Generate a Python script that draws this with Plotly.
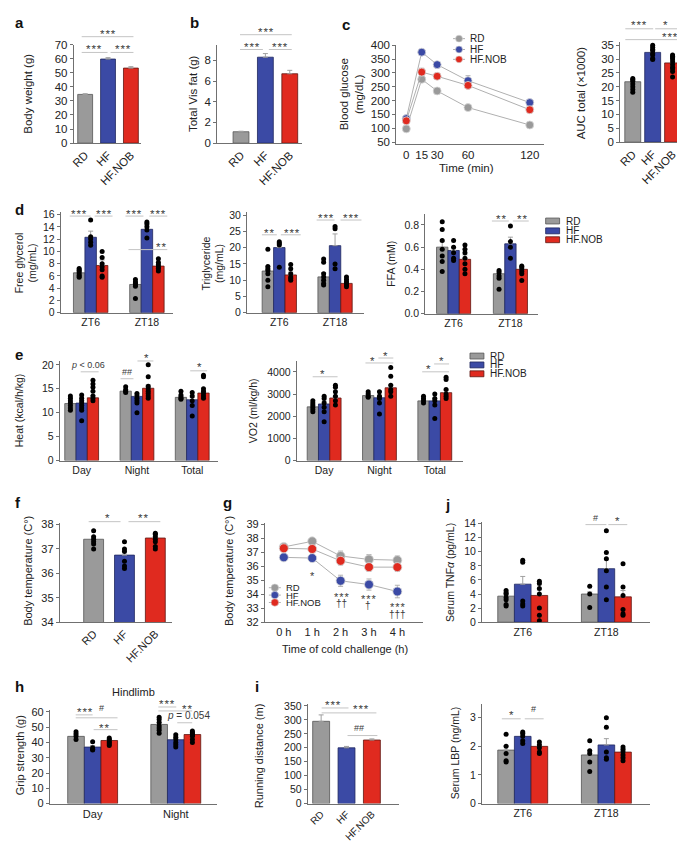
import plotly.graph_objects as go

W, H = 685, 842
FONT = "Liberation Sans"

GROUPS = ["RD", "HF", "HF.NOB"]
FILL = ["#9a9a9a", "#3b4aa5", "#e02a1f"]
EDGE = ["#555555", "#20275e", "#5e1712"]

# ---------------- data ----------------
# a  body weight
bw_mean = [34.6, 59.7, 53.3]
bw_sem = [0.5, 1.0, 1.0]
# b  total visceral fat
fat_mean = [1.1, 8.3, 6.7]
fat_sem = [0.05, 0.35, 0.33]
# c  GTT
gtt_time = [0, 15, 30, 60, 120]
gtt_mean = [[98, 277, 235, 175, 112],
            [135, 375, 330, 272, 193],
            [127, 303, 288, 255, 167]]
gtt_sem = [[5, 10, 10, 8, 5],
           [5, 5, 5, 18, 5],
           [5, 14, 10, 10, 8]]
auc_mean = [21.8, 32.4, 28.6]
auc_sem = [0.8, 0.8, 0.9]
auc_dots = [[23.0, 22.5, 22.0, 21.0, 20.0, 19.0, 18.0],
            [35.0, 34.3, 33.5, 33.0, 32.0, 31.5, 30.2, 29.8],
            [31.5, 31.0, 30.5, 30.0, 29.0, 28.0, 27.0, 26.5, 25.5, 23.5]]
# d
zt_cats = ["ZT6", "ZT18"]
fg_mean = [[6.5, 4.6], [12.3, 13.6], [7.7, 7.6]]
fg_sem = [[0.3, 0.4], [1.0, 0.7], [0.9, 0.6]]
fg_dots = [[[7.2, 7.0, 6.8, 6.5, 6.2, 6.0, 5.8], [5.4, 5.0, 4.8, 4.5, 4.3, 2.3]],
           [[15.1, 12.4, 12.0, 11.5, 11.0], [14.8, 14.5, 14.0, 13.5, 12.2]],
           [[10.0, 9.0, 8.0, 7.5, 7.0, 6.0, 5.8], [8.8, 8.2, 7.8, 7.5, 7.2, 6.8]]]
tg_mean = [[12.8, 11.0], [20.0, 20.6], [11.6, 9.0]]
tg_sem = [[1.4, 1.3], [1.6, 3.6], [0.9, 0.5]]
tg_dots = [[[19.5, 14.2, 13.5, 13.0, 12.0, 10.0, 8.0], [16.5, 15.5, 12.0, 11.0, 10.0, 9.0, 8.5]],
           [[21.8, 21.3, 20.8, 14.0], [26.5, 25.8, 15.0, 13.5]],
           [[14.8, 13.5, 12.0, 11.0, 10.5, 10.0], [11.0, 10.2, 9.5, 9.0, 8.5, 8.0]]]
ffa_mean = [[0.60, 0.36], [0.57, 0.63], [0.49, 0.40]]
ffa_sem = [[0.05, 0.02], [0.03, 0.06], [0.04, 0.02]]
ffa_dots = [[[0.83, 0.76, 0.66, 0.58, 0.52, 0.47, 0.38], [0.39, 0.37, 0.34, 0.32, 0.22]],
            [[0.66, 0.60, 0.55, 0.50, 0.48], [0.79, 0.65, 0.60, 0.50]],
            [[0.62, 0.58, 0.55, 0.50, 0.45, 0.40, 0.36], [0.43, 0.42, 0.40, 0.38, 0.36, 0.30]]]
# e
period_cats = ["Day", "Night", "Total"]
heat_mean = [[11.9, 14.5, 13.2], [12.0, 13.4, 12.7], [13.1, 15.1, 14.1]]
heat_sem = [[0.3, 0.3, 0.3], [0.5, 0.5, 0.5], [0.5, 0.7, 0.5]]
heat_dots = [[[13.5, 13.0, 12.5, 12.0, 11.5, 11.0, 10.5], [15.4, 14.8, 14.5, 14.2], [14.5, 13.7, 13.3, 13.0, 12.8]],
             [[13.7, 13.0, 12.5, 12.0, 11.5, 11.0, 10.5, 8.3], [14.0, 13.5, 13.0, 12.5, 12.0, 10.0], [14.2, 13.5, 12.5, 11.5, 9.3]],
             [[16.8, 16.0, 15.3, 14.5, 13.5, 13.0, 12.5], [20.0, 17.5, 15.5, 15.0, 14.5, 14.0, 13.5, 13.0], [17.8, 17.5, 15.0, 14.5, 14.0, 13.5, 13.0]]]
vo2_mean = [[2420, 2930, 2690], [2550, 2830, 2690], [2820, 3280, 3060]]
vo2_sem = [[60, 60, 60], [120, 120, 110], [100, 140, 110]]
vo2_dots = [[[2700, 2600, 2500, 2400, 2300, 2200], [3100, 3000, 2900, 2850], [2900, 2800, 2700, 2600]],
            [[2900, 2800, 2600, 2400, 2200, 1750], [3100, 2900, 2800, 2600, 2100], [3000, 2800, 2700, 2500, 1900]],
            [[3400, 3300, 3100, 2900, 2700, 2500], [4200, 3800, 3400, 3200, 3100, 2900], [3750, 3650, 3200, 3000, 2900, 2800]]]
# f
bt_mean = [37.4, 36.75, 37.45]
bt_sem = [0.08, 0.2, 0.08]
bt_dots = [[37.75, 37.5, 37.4, 37.3, 37.2, 37.0],
           [37.3, 37.0, 36.9, 36.5, 36.3, 36.2],
           [37.65, 37.6, 37.5, 37.4, 37.3, 37.1, 37.0]]
# g
cold_hours = [0, 1, 2, 3, 4]
cold_labels = ["0 h", "1 h", "2 h", "3 h", "4 h"]
cold_mean = [[37.4, 37.8, 36.75, 36.5, 36.45],
             [36.65, 36.6, 34.97, 34.7, 34.2],
             [37.3, 37.25, 36.4, 35.95, 35.95]]
cold_sem = [[0.15, 0.1, 0.35, 0.35, 0.3],
            [0.2, 0.2, 0.4, 0.4, 0.45],
            [0.2, 0.2, 0.3, 0.3, 0.3]]
# j
tnf_mean = [[3.7, 4.0], [5.4, 7.6], [3.8, 3.6]]
tnf_sem = [[0.3, 0.3], [1.1, 1.3], [0.8, 0.9]]
tnf_dots = [[[4.5, 4.2, 4.0, 3.5, 3.2, 2.5, 2.3], [5.1, 4.0, 2.1]],
            [[8.8, 8.5, 3.0, 2.6, 2.3], [13.0, 9.9, 9.0, 7.3, 5.0, 3.2]],
            [[5.8, 5.5, 4.8, 4.0, 2.0, 1.0, 0.2], [8.3, 5.0, 3.8, 1.8, 1.2, 1.0]]]
# h
grip_cats = ["Day", "Night"]
grip_mean = [[44.0, 51.8], [37.0, 41.8], [41.3, 45.2]]
grip_sem = [[1.5, 1.2], [1.0, 1.2], [0.8, 1.0]]
grip_dots = [[[47.0, 45.5, 44.0, 42.0], [56.5, 55.0, 53.0, 51.0, 49.5, 48.0, 46.0]],
             [[40.5, 36.5, 35.5, 35.0], [45.0, 43.5, 42.0, 40.0, 38.5, 37.0]],
             [[43.0, 42.0, 41.0, 40.0, 39.0, 38.0], [47.5, 46.5, 45.5, 45.0, 44.0, 42.0, 40.0]]]
# i
run_mean = [295, 200, 228]
run_sem = [23, 5, 4]
# LBP
lbp_mean = [[1.87, 1.70], [2.35, 2.05], [2.0, 1.8]]
lbp_sem = [[0.15, 0.15], [0.08, 0.22], [0.06, 0.06]]
lbp_dots = [[[2.42, 2.0, 1.75, 1.5, 1.45], [2.2, 1.85, 1.75, 1.45, 1.12]],
            [[2.5, 2.45, 2.35, 2.2, 2.1], [3.0, 2.67, 1.8, 1.6, 1.55]],
            [[2.15, 2.05, 1.95, 1.8, 1.75], [1.98, 1.9, 1.8, 1.7, 1.6, 1.5]]]

# ---------------- helpers ----------------
def X(p):
    return p / W


def Y(p):
    return 1 - p / H


fig = go.Figure()
layout = dict(width=W, height=H, margin=dict(l=0, r=0, t=0, b=0),
              paper_bgcolor="white", plot_bgcolor="white", barmode="overlay",
              showlegend=False, font=dict(family=FONT, size=11, color="#222"))
annotations = []
shapes = []
AXC = "#707070"


def sfx(n):
    return "" if n == 1 else str(n)


def axes(n, xpx, ypx, xr, yr, ytick=None, xvals=None, xtext=None, xangle=0,
         fs=11, xfs=None, xticks=""):
    layout["xaxis" + sfx(n)] = dict(
        domain=[X(xpx[0]), X(xpx[1])], range=xr, anchor="y" + sfx(n),
        showline=True, linecolor=AXC, linewidth=1, showgrid=False, zeroline=False,
        tickvals=xvals, ticktext=xtext, tickangle=xangle, ticks=xticks, ticklen=3,
        tickcolor=AXC, tickfont=dict(size=xfs or fs, family=FONT, color="#222"))
    layout["yaxis" + sfx(n)] = dict(
        domain=[Y(ypx[1]), Y(ypx[0])], range=yr, anchor="x" + sfx(n),
        showline=True, linecolor=AXC, linewidth=1, showgrid=False, zeroline=False,
        tickvals=ytick, ticks="outside", ticklen=3, tickcolor=AXC,
        tickfont=dict(size=fs, family=FONT, color="#222"))


def err(sem, color="#a0a0a0"):
    return dict(type="data", array=sem, arrayminus=[0] * len(sem), symmetric=False,
                color=color, thickness=1, width=2.5)


def simple_bars(n, means, sems, bw, dots=None):
    xs = list(range(len(means)))
    fig.add_trace(go.Bar(x=xs, y=means, width=bw,
                         marker=dict(color=FILL, line=dict(color=EDGE, width=0.8)),
                         error_y=err(sems), xaxis="x" + sfx(n), yaxis="y" + sfx(n)))
    if dots:
        dx, dy = [], []
        for i, d in enumerate(dots):
            dx += [xs[i]] * len(d)
            dy += d
        fig.add_trace(go.Scatter(x=dx, y=dy, mode="markers",
                                 marker=dict(color="black", size=5),
                                 xaxis="x" + sfx(n), yaxis="y" + sfx(n)))


def group_bars(n, means, sems, dots, bw):
    for k in range(3):
        xs = [c + (k - 1) * bw for c in range(len(means[k]))]
        fig.add_trace(go.Bar(x=xs, y=means[k], width=bw,
                             marker=dict(color=FILL[k], line=dict(color=EDGE[k], width=0.8)),
                             error_y=err(sems[k]), xaxis="x" + sfx(n), yaxis="y" + sfx(n)))
    for k in range(3):
        dx, dy = [], []
        for c, d in enumerate(dots[k]):
            dx += [c + (k - 1) * bw] * len(d)
            dy += d
        fig.add_trace(go.Scatter(x=dx, y=dy, mode="markers",
                                 marker=dict(color="black", size=5),
                                 xaxis="x" + sfx(n), yaxis="y" + sfx(n)))


def line_panel(n, xs, means, sems, size=8):
    for k in range(3):
        fig.add_trace(go.Scatter(x=xs, y=means[k], mode="lines+markers",
                                 line=dict(color="#b0b0b0", width=1),
                                 marker=dict(color=FILL[k], size=size,
                                             line=dict(color="#d8d8d8", width=0.8)),
                                 error_y=dict(type="data", array=sems[k], color="#b0b0b0",
                                              thickness=1, width=2.5),
                                 xaxis="x" + sfx(n), yaxis="y" + sfx(n)))


def text(t, x, y, size=10, angle=0, color="#333", bold=False, xanchor="center"):
    if bold:
        t = "<b>" + t + "</b>"
    annotations.append(dict(text=t, x=X(x), y=Y(y), xref="paper", yref="paper",
                            showarrow=False, textangle=angle, xanchor=xanchor,
                            yanchor="middle", font=dict(size=size, family=FONT, color=color)))


def stars(t, x, y, size=11.5):
    # asterisks sit high in the line box; shift so that the glyphs centre on (x, y)
    text("\u200a".join(t), x, y + 3, size=size, color="#3a3a3a")


def sig(t, x, y, lines, size=10):
    if set(t) == {"*"}:
        stars(t, x, y)
    else:
        text(t, x, y, size=size, color="#3a3a3a")
    for (x0, x1, ly) in lines:
        shapes.append(dict(type="line", xref="paper", yref="paper",
                           x0=X(x0), x1=X(x1), y0=Y(ly), y1=Y(ly),
                           line=dict(color="#c4c4c4", width=1)))


def bar_legend(x, ys):
    for k in range(3):
        shapes.append(dict(type="rect", xref="paper", yref="paper",
                           x0=X(x), x1=X(x + 14), y0=Y(ys[k] + 3), y1=Y(ys[k] - 3),
                           fillcolor=FILL[k], line=dict(color=EDGE[k], width=0.8)))
        text(GROUPS[k], x + 18, ys[k], size=10, color="#222", xanchor="left")


def line_legend(x, ys, r=3.5, size=10):
    for k in range(3):
        shapes.append(dict(type="line", xref="paper", yref="paper",
                           x0=X(x - 6), x1=X(x + 6), y0=Y(ys[k]), y1=Y(ys[k]),
                           line=dict(color="#b0b0b0", width=1)))
        shapes.append(dict(type="circle", xref="paper", yref="paper",
                           x0=X(x - r), x1=X(x + r), y0=Y(ys[k] + r), y1=Y(ys[k] - r),
                           fillcolor=FILL[k], line=dict(color="#d8d8d8", width=0.6)))
        text(GROUPS[k], x + 9, ys[k], size=size, color="#222", xanchor="left")


# ---------------- panel a ----------------
axes(1, (63, 131), (31, 131), [-0.5, 2.46], [0, 70], ytick=list(range(0, 71, 10)),
     xvals=[0, 1, 2], xtext=GROUPS, xangle=-45, fs=11.5)
simple_bars(1, bw_mean, bw_sem, 0.65)
text("Body weight (g)", 17, 81, size=11.5, angle=-90, color="#222")
sig("***", 97, 17, [(71, 123, 23)])
sig("***", 83, 33, [(71, 97, 39)])
sig("***", 112, 33, [(100, 123, 39)])

# ---------------- panel b ----------------
axes(2, (207, 292), (31, 131), [-0.98, 2.49], [0, 9.52], ytick=[0, 2, 4, 6, 8],
     xvals=[0, 1, 2], xtext=GROUPS, xangle=-45, fs=11.5)
simple_bars(2, fat_mean, fat_sem, 0.65)
text("Total Vis fat (g)", 183, 81, size=11.5, angle=-90, color="#222")
sig("***", 256, 15, [(230, 282, 21)])
sig("***", 242, 30, [(230, 253, 36)])
sig("***", 270, 30, [(259, 282, 36)])

# ---------------- panel c ----------------
axes(3, (387, 535), (31, 132), [-9.7, 133.5], [42.9, 402.5],
     ytick=list(range(50, 401, 50)), xvals=gtt_time, xtext=[str(t) for t in gtt_time], fs=11.5)
line_panel(3, gtt_time, gtt_mean, gtt_sem)
text("Blood glucose<br>(mg/dL)", 342, 82, size=11.5, angle=-90, color="#222")
text("Time (min)", 458, 156, size=11.5, color="#222")
line_legend(450, [25, 36, 46])

axes(4, (612, 674), (28, 130), [-0.625, 2.475], [0, 36.3], ytick=list(range(0, 36, 5)),
     xvals=[0, 1, 2], xtext=GROUPS, xangle=-45, fs=11.5)
simple_bars(4, auc_mean, auc_sem, 0.8, auc_dots)
text("AUC total (×1000)", 572, 80, size=11.5, angle=-90, color="#222")
sig("***", 631, 8, [(617, 645, 15)])
sig("*", 657, 8, [(647, 670, 15)])
sig("***", 662, 20, [(617, 670, 26)])

# ---------------- panel d ----------------
axes(5, (50, 163), (201, 303), [-0.531, 1.469], [0, 16.4], ytick=list(range(0, 17, 2)),
     xvals=[0, 1], xtext=zt_cats, fs=10.5)
group_bars(5, fg_mean, fg_sem, fg_dots, 0.204)
text("Free glycerol<br>(mg/mL)", 15, 252, size=10.5, angle=-90, color="#222")
sig("***", 68, 200, [(59, 80, 205)])
sig("***", 93, 200, [(84, 102, 205)])
sig("***", 124, 200, [(115, 133, 205)])
sig("***", 148, 200, [(139, 157, 205)])
sig("**", 151, 233, [(118, 157, 239)])

axes(6, (237, 355), (201, 303), [-0.58, 1.527], [0, 30.9], ytick=list(range(0, 31, 5)),
     xvals=[0, 1], xtext=zt_cats, fs=10.5)
group_bars(6, tg_mean, tg_sem, tg_dots, 0.205)
text("Triglyceride<br>(mg/mL)", 203, 253, size=10.5, angle=-90, color="#222")
sig("**", 259, 219, [(252, 267, 224)])
sig("***", 282, 219, [(271, 291, 224)])
sig("***", 316, 204, [(307, 325, 209)])
sig("***", 341, 204, [(331, 352, 209)])

axes(7, (416, 529), (203, 304), [-0.5, 1.48], [0, 0.898],
     ytick=[0.0, 0.2, 0.4, 0.6, 0.8], xvals=[0, 1], xtext=zt_cats, fs=10.5)
layout["yaxis7"]["tickformat"] = ".1f"
group_bars(7, ffa_mean, ffa_sem, ffa_dots, 0.2)
text("FFA (mM)", 382, 253, size=10.5, angle=-90, color="#222")
sig("**", 492, 205, [(483, 500, 210)])
sig("**", 513, 205, [(504, 520, 210)])
bar_legend(537, [210, 220, 229])

# ---------------- panel e ----------------
axes(8, (49, 208), (352, 453), [-0.396, 2.468], [0, 20.8], ytick=[0, 5, 10, 15, 20],
     xvals=[0, 1, 2], xtext=period_cats, fs=10.5)
group_bars(8, heat_mean, heat_sem, heat_dots, 0.204)
text("Heat (kcal/h/kg)", 8, 402, size=10.5, angle=-90, color="#222")
sig("<i>p</i> < 0.06", 77, 356, [(70, 88, 363)], size=9)
sig("##", 117, 363, [(110, 123, 370)], size=9)
sig("*", 136, 346, [(127, 143, 352)])
sig("*", 189, 355, [(180, 197, 362)])

axes(9, (287, 454), (352, 453), [-0.495, 2.51], [0, 4489],
     ytick=[0, 1000, 2000, 3000, 4000], xvals=[0, 1, 2], xtext=period_cats, fs=10.5)
group_bars(9, vo2_mean, vo2_sem, vo2_dots, 0.204)
text("VO2 (ml/kg/h)", 243, 402, size=10.5, angle=-90, color="#222")
sig("*", 313, 362, [(303, 328, 368)])
sig("*", 363, 349, [(356, 384, 354)])
sig("*", 376, 344, [(369, 384, 349)])
sig("*", 419, 357, [(413, 440, 363)])
sig("*", 432, 349, [(425, 440, 355)])
bar_legend(461, [347, 356, 365])

# ---------------- panel f ----------------
axes(10, (49, 162), (516, 617), [-1.097, 2.55], [34, 38.08], ytick=[34, 35, 36, 37, 38],
     xvals=[0, 1, 2], xtext=GROUPS, xangle=-45, fs=11)
simple_bars(10, bt_mean, bt_sem, 0.645, bt_dots)
text("Body temperature (C°)", 17, 565, size=11, angle=-90, color="#222")
sig("*", 97, 508, [(78, 110, 515)])
sig("**", 133, 508, [(118, 150, 515)])

# ---------------- panel g ----------------
axes(11, (255, 414), (516, 617), [-0.667, 4.91], [32, 39.14], ytick=list(range(32, 40)),
     xvals=cold_hours, xtext=cold_labels, fs=11)
line_panel(11, cold_hours, cold_mean, cold_sem, size=9)
text("Body temperature (C°)", 219, 565, size=11, angle=-90, color="#222")
text("Time of cold challenge (h)", 335, 644, size=11, color="#222")
for (t, x, y) in [("*", 303, 567), ("***", 332, 588), ("***", 359, 590), ("***", 388, 599)]:
    stars(t, x, y, size=11)
for (t, x, y) in [("††", 332, 598), ("†", 359, 600), ("†††", 388, 609)]:
    text(t, x, y, size=10, color="#3a3a3a")
line_legend(265, [582, 589.5, 597], r=3.8, size=9.5)

# ---------------- panel j ----------------
axes(12, (473, 642), (515, 617), [-0.488, 1.524], [0, 14.28], ytick=list(range(0, 15, 2)),
     xvals=[0, 1], xtext=zt_cats, fs=10.5)
group_bars(12, tnf_mean, tnf_sem, tnf_dots, 0.199)
text("Serum TNF<i>α</i> (pg/mL)", 441, 567, size=10.5, angle=-90, color="#222")
sig("#", 587, 511, [(577, 598, 518)], size=9)
sig("*", 609, 511, [(600, 619, 518)])

# ---------------- panel h ----------------
axes(13, (39, 207), (706, 801), [-0.515, 1.497], [0, 61.3], ytick=list(range(0, 61, 10)),
     xvals=[0, 1], xtext=grip_cats, fs=11)
group_bars(13, grip_mean, grip_sem, grip_dots, 0.2)
text("Grip strength (g)", 9, 752, size=11, angle=-90, color="#222")
text("Hindlimb", 123, 688, size=11, color="#222")
sig("***", 74, 705, [(65, 82, 711)])
sig("#", 91, 704, [(65, 107, 714)], size=9)
sig("**", 93, 721, [(83, 107, 726)])
sig("***", 157, 697, [(148, 166, 703)])
sig("**", 177, 702, [(148, 182, 707)])
sig("<i>p</i> = 0.054", 178, 712, [(167, 182, 719)], size=10)

# ---------------- panel i ----------------
axes(14, (298, 390), (700, 801), [-0.53, 3.08], [0, 357], ytick=list(range(0, 351, 50)),
     xvals=[0, 1, 2], xtext=GROUPS, xangle=-45, fs=10.5, xfs=10)
simple_bars(14, run_mean, run_sem, 0.667)
text("Running distance (m)", 249, 752, size=11, angle=-90, color="#222")
sig("***", 323, 698, [(312, 339, 704)])
sig("***", 352, 702, [(312, 367, 709)])
sig("##", 350, 724, [(338, 368, 732)], size=9)

# ---------------- panel LBP ----------------
axes(15, (473, 642), (700, 801), [-0.488, 1.524], [0, 3.48], ytick=[0, 1, 2, 3],
     xvals=[0, 1], xtext=zt_cats, fs=10.5)
group_bars(15, lbp_mean, lbp_sem, lbp_dots, 0.199)
text("Serum LBP (ng/mL)", 446, 750, size=10.5, angle=-90, color="#222")
sig("*", 503, 708, [(493, 512, 715)])
sig("#", 525, 705, [(516, 535, 715)], size=9)

# ---------------- panel letters ----------------
for (t, x, y) in [("a", 2, 9), ("b", 178, 9), ("c", 330, 11), ("d", 2, 198), ("e", 2, 345),
                  ("f", 2, 496), ("g", 211, 496), ("j", 434, 498), ("h", 2, 682), ("i", 243, 682)]:
    text(t, x, y, size=15, color="#111", bold=True, xanchor="left")

layout["annotations"] = annotations
layout["shapes"] = shapes
fig.update_layout(**layout)
fig.write_html("out.html")
